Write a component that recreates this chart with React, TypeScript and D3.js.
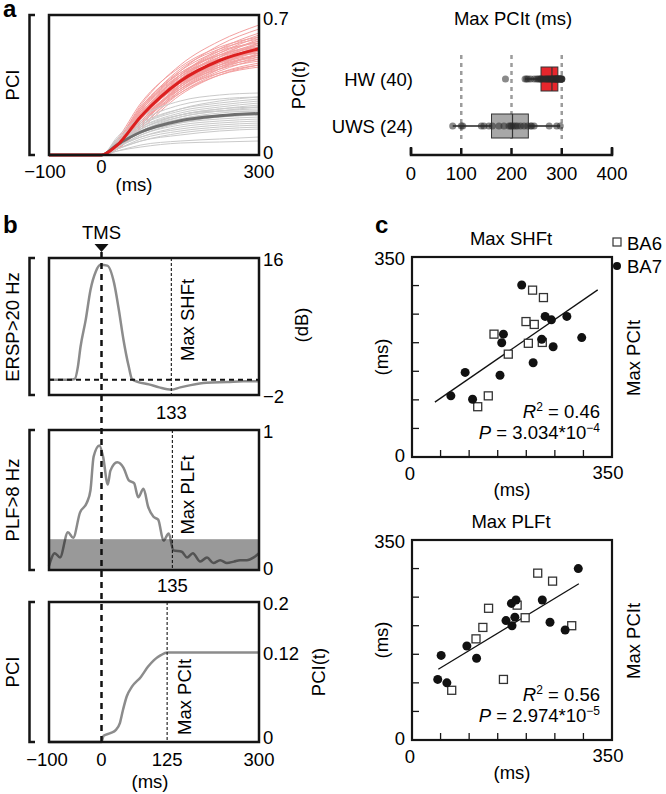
import React from "react";
import * as d3 from "d3";

const FONT = "'Liberation Sans', Arial, Helvetica, sans-serif";

// ---- a (left): PCI(t) of every subject, sampled at these latencies (ms)
const curveTimes = [-100, 0, 30, 75, 150, 225, 300];
// values at 30, 75, 150, 225, 300 ms (PCI stays at 0 before the pulse)
const hwCurves = [
  [0.05, 0.2, 0.4, 0.52, 0.6], [0.04, 0.18, 0.38, 0.5, 0.57], [0.06, 0.22, 0.42, 0.55, 0.63],
  [0.03, 0.15, 0.33, 0.44, 0.5], [0.05, 0.19, 0.36, 0.46, 0.52], [0.07, 0.24, 0.41, 0.5, 0.55],
  [0.04, 0.16, 0.34, 0.45, 0.53], [0.05, 0.21, 0.39, 0.49, 0.54], [0.06, 0.23, 0.43, 0.53, 0.58],
  [0.03, 0.14, 0.31, 0.41, 0.46], [0.04, 0.17, 0.35, 0.47, 0.56], [0.05, 0.2, 0.37, 0.45, 0.49],
  [0.08, 0.26, 0.44, 0.54, 0.59], [0.04, 0.18, 0.36, 0.48, 0.55], [0.05, 0.19, 0.35, 0.43, 0.47],
  [0.03, 0.13, 0.3, 0.4, 0.45], [0.06, 0.21, 0.38, 0.47, 0.51], [0.05, 0.22, 0.4, 0.51, 0.57],
  [0.04, 0.16, 0.32, 0.42, 0.48], [0.07, 0.25, 0.45, 0.57, 0.65], [0.05, 0.18, 0.34, 0.44, 0.5],
  [0.06, 0.2, 0.36, 0.44, 0.48], [0.04, 0.19, 0.39, 0.51, 0.59], [0.05, 0.17, 0.33, 0.43, 0.49],
  [0.03, 0.15, 0.35, 0.47, 0.54], [0.06, 0.23, 0.41, 0.5, 0.54], [0.05, 0.21, 0.37, 0.46, 0.5],
  [0.04, 0.16, 0.31, 0.4, 0.44], [0.07, 0.24, 0.42, 0.52, 0.56], [0.05, 0.2, 0.38, 0.49, 0.56],
  [0.06, 0.22, 0.39, 0.48, 0.52], [0.04, 0.17, 0.34, 0.46, 0.53], [0.05, 0.19, 0.36, 0.45, 0.5],
  [0.03, 0.14, 0.32, 0.43, 0.51], [0.06, 0.21, 0.4, 0.53, 0.61], [0.05, 0.18, 0.33, 0.41, 0.45],
  [0.04, 0.2, 0.37, 0.47, 0.52], [0.07, 0.23, 0.4, 0.48, 0.51], [0.05, 0.19, 0.35, 0.45, 0.52],
  [0.04, 0.16, 0.35, 0.49, 0.58],
];
const uwsCurves = [
  [0.06, 0.13, 0.2, 0.23, 0.24], [0.08, 0.17, 0.25, 0.28, 0.29], [0.04, 0.09, 0.13, 0.15, 0.16],
  [0.05, 0.11, 0.16, 0.18, 0.19], [0.09, 0.19, 0.27, 0.3, 0.31], [0.03, 0.07, 0.1, 0.12, 0.13],
  [0.06, 0.14, 0.21, 0.24, 0.26], [0.05, 0.12, 0.18, 0.2, 0.21], [0.07, 0.15, 0.22, 0.25, 0.27],
  [0.02, 0.05, 0.07, 0.08, 0.09], [0.04, 0.1, 0.15, 0.17, 0.18], [0.06, 0.13, 0.19, 0.22, 0.23],
  [0.05, 0.11, 0.17, 0.19, 0.2], [0.08, 0.16, 0.23, 0.26, 0.28], [0.03, 0.08, 0.12, 0.14, 0.15],
  [0.04, 0.09, 0.14, 0.16, 0.17], [0.07, 0.14, 0.2, 0.22, 0.22], [0.05, 0.12, 0.19, 0.22, 0.24],
  [0.02, 0.04, 0.06, 0.065, 0.07], [0.06, 0.15, 0.23, 0.27, 0.29], [0.04, 0.1, 0.16, 0.19, 0.2],
  [0.05, 0.13, 0.2, 0.23, 0.25], [0.03, 0.07, 0.11, 0.13, 0.14], [0.06, 0.12, 0.18, 0.21, 0.22],
];
const timeTicks = [-100, 0, 300];
const pciTicksA = [0, 0.7];

// ---- a (right): Max PCIt (ms) per subject
const groups = ["HW (40)", "UWS (24)"];
const hwMaxPci = [
  188, 227, 230, 233, 238, 245, 250, 253, 256, 258, 259, 262, 265, 268, 270, 272, 274, 276, 278, 280,
  281, 283, 284, 286, 287, 288, 289, 290, 291, 292, 293, 294, 295, 296, 297, 298, 299, 300, 300, 300,
];
const uwsMaxPci = [
  83, 100, 103, 140, 145, 155, 162, 175, 185, 195, 198, 200,
  204, 208, 212, 218, 225, 232, 238, 240, 245, 275, 290, 297,
];
const boxTicks = [0, 100, 200, 300, 400];
const boxGuides = [100, 200, 300];

// ---- b: single subject time courses
const erspT = [-100, -60, -51, -45, -40, -30, -21, -11, -2, 11, 24, 33, 42, 52, 58, 70, 90, 110, 133, 150, 170, 200, 240, 270, 300];
const erspV = [0, 0, 0.1, 1.7, 4.3, 7.9, 11.8, 14.2, 15.1, 15, 12.7, 9.2, 5.2, 1.7, 0.1, -0.3, -0.6, -1.0, -1.3, -1.0, -0.7, -0.4, -0.3, -0.2, -0.2];
const plfT = [-100, -89, -79, -64, -54, -41, -28, -21, -15, -4, 3, 12, 17, 30, 42, 52, 62, 70, 80, 89, 99, 108, 118, 128, 137, 153, 163, 174, 188, 201, 213, 226, 239, 252, 264, 277, 290, 300];
const plfV = [0.03, 0.12, 0.09, 0.27, 0.23, 0.41, 0.48, 0.57, 0.81, 0.89, 0.81, 0.61, 0.71, 0.77, 0.73, 0.64, 0.62, 0.52, 0.58, 0.45, 0.38, 0.36, 0.21, 0.26, 0.14, 0.13, 0.09, 0.12, 0.06, 0.09, 0.05, 0.07, 0.05, 0.06, 0.07, 0.07, 0.09, 0.12];
const plfThreshold = 0.22;
const pciT = [-100, 0, 4, 18, 27, 35, 41, 48, 58, 75, 88, 100, 113, 125, 300];
const pciV = [0, 0, 0.009, 0.013, 0.017, 0.027, 0.046, 0.065, 0.079, 0.093, 0.107, 0.117, 0.124, 0.128, 0.128];
const maxShf = 133;
const maxPlf = 135;
const maxPci = 125;
const bTimeTicks = [-100, 0, 125, 300];
const erspTicks = [16, -2];
const erspTickLabels = ["16", "\u22122"];
const plfTicks = [1, 0];
const pciTicksB = [0.2, 0.128, 0];
const pciTickLabelsB = ["0.2", "0.12", "0"];

// ---- c: Max SHFt / Max PLFt (x) vs Max PCIt (y), ms
const topBA6X = [211, 230, 199.5, 214, 143.5, 203.6, 228, 168.5, 133.5, 115];
const topBA6Y = [292, 279, 237, 232, 215, 199, 200.5, 180, 107, 88];
const topBA7X = [68, 93, 106, 154, 157, 160, 192, 212, 227, 233, 244, 247, 271, 297];
const topBA7Y = [107, 148, 101, 143, 200, 215, 301, 165, 206, 246, 240, 193, 246, 209];
const botBA6X = [220, 246, 184, 134, 198, 124, 279.5, 112, 160, 69.5];
const botBA6Y = [292, 278, 236, 230.5, 214, 197, 200, 177, 106, 87];
const botBA7X = [291, 228, 174, 182, 164.5, 175, 180, 241.5, 268, 96, 51, 113, 45, 61];
const botBA7Y = [300, 245, 239, 245, 209, 200, 215, 206, 192.5, 164.5, 148, 143, 106, 100];
const topFitRange = [40, 325];
const botFitRange = [46, 292];
const scatterTicks = [50, 100, 150, 200, 250, 300];
const topStats = ["0.46", "3.034", "\u22124"];
const botStats = ["0.56", "2.974", "\u22125"];

const FS = 18.5;
const fmtMinus = (v: number) => (v < 0 ? "\u2212" + Math.abs(v) : String(v));

function boxStats(vals: number[]) {
  const s = vals.slice().sort(d3.ascending);
  const q1 = d3.quantileSorted(s, 0.25)!;
  const med = d3.quantileSorted(s, 0.5)!;
  const q3 = d3.quantileSorted(s, 0.75)!;
  const iqr = q3 - q1;
  const lo = d3.min(s.filter((v) => v >= q1 - 1.5 * iqr))!;
  const hi = d3.max(s.filter((v) => v <= q3 + 1.5 * iqr))!;
  return { q1, med, q3, lo, hi };
}

function fit(xs: number[], ys: number[]) {
  const mx = d3.mean(xs)!;
  const my = d3.mean(ys)!;
  const sxy = d3.sum(xs, (x, i) => (x - mx) * (ys[i] - my));
  const sxx = d3.sum(xs, (x) => (x - mx) * (x - mx));
  const slope = sxy / sxx;
  return { slope, icpt: my - slope * mx };
}

const VText = ({ x, y, children }: any) => (
  <text transform={`translate(${x},${y}) rotate(-90)`} textAnchor="middle" dominantBaseline="central">
    {children}
  </text>
);

const bracket = (y0: number, y1: number) => `M35,${y0}H29.5V${y1}H35`;

function PanelA() {
  const x = d3.scaleLinear().domain([-100, 300]).range([49, 259]);
  const y = d3.scaleLinear().domain([0, 0.7]).range([155, 15]);
  const line = d3.line<number>().x((d, i) => x(curveTimes[i])).y((d) => y(d)).curve(d3.curveMonotoneX);
  const full = (c: number[]) => [0, 0, ...c];
  const mean = (cs: number[][]) => curveTimes.map((t, i) => d3.mean(cs, (c) => full(c)[i])!);

  const xb = d3.scaleLinear().domain([0, 400]).range([411, 612]);
  const yb = d3.scalePoint<string>().domain(groups).range([79, 126]);
  const sets = [hwMaxPci, uwsMaxPci];
  const fills = ["#e6262c", "#a8a8a8"];

  return (
    <g>
      <text x={3} y={17} fontSize={24} fontWeight="bold">a</text>
      {hwCurves.map((c, i) => (
        <path key={"h" + i} d={line(full(c))!} fill="none" stroke="#f3a0a0" strokeWidth={1} />
      ))}
      {uwsCurves.map((c, i) => (
        <path key={"u" + i} d={line(full(c))!} fill="none" stroke="#cacaca" strokeWidth={1} />
      ))}
      <path d={line(mean(uwsCurves))!} fill="none" stroke="#6f6f6f" strokeWidth={3} />
      <path d={line(mean(hwCurves))!} fill="none" stroke="#dc1f1f" strokeWidth={3} />
      <rect x={x(-100)} y={y(0.7)} width={x(300) - x(-100)} height={y(0) - y(0.7)} fill="none" stroke="#151515" strokeWidth={2.5} />
      <path d={bracket(y(0.7), y(0))} fill="none" stroke="#151515" strokeWidth={2.5} />
      <VText x={12} y={85}>PCI</VText>
      <VText x={298} y={85}>PCI(t)</VText>
      {pciTicksA.map((v) => (
        <text key={v} x={263} y={y(v) + (v === 0 ? -3 : 3)} dominantBaseline="central">{v}</text>
      ))}
      {timeTicks.map((t) => (
        <text key={t} x={x(t) - (t === -100 ? 4 : 0)} y={t === 0 ? 166 : 171} textAnchor="middle" dominantBaseline="central">{fmtMinus(t)}</text>
      ))}
      <text x={134} y={184} textAnchor="middle" dominantBaseline="central">(ms)</text>

      {/* box plot */}
      <text x={513} y={18} textAnchor="middle" dominantBaseline="central">Max PCIt (ms)</text>
      {boxGuides.map((v) => (
        <line key={v} x1={xb(v)} x2={xb(v)} y1={55} y2={140} stroke="#9c9c9c" strokeWidth={2.5} strokeDasharray="4 4" />
      ))}
      {groups.map((g, gi) => {
        const s = boxStats(sets[gi]);
        const cy = yb(g)!;
        return (
          <g key={g}>
            <text x={413} y={cy} textAnchor="end" dominantBaseline="central">{g}</text>
            <line x1={xb(s.lo)} x2={xb(s.hi)} y1={cy} y2={cy} stroke="#222" strokeWidth={1.5} />
            <rect x={xb(s.q1)} y={cy - 12} width={xb(s.q3) - xb(s.q1)} height={24} fill={fills[gi]} stroke="#333" strokeWidth={1} />
            <line x1={xb(s.med)} x2={xb(s.med)} y1={cy - 12} y2={cy + 12} stroke="#333" strokeWidth={1.2} />
            {sets[gi].map((v, i) => (
              <circle key={i} cx={xb(v)} cy={cy} r={3.5} fill="#2a2a2a" fillOpacity={0.55} />
            ))}
          </g>
        );
      })}
      <path d={`M${xb(0)},147V155H${xb(400)}V147`} fill="none" stroke="#151515" strokeWidth={2.5} />
      {boxTicks.map((v) => (
        <g key={v}>
          <line x1={xb(v)} x2={xb(v)} y1={148} y2={155} stroke="#151515" strokeWidth={2.5} />
          <text x={xb(v)} y={173} textAnchor="middle" dominantBaseline="central">{v}</text>
        </g>
      ))}
    </g>
  );
}

function PanelB() {
  const x = d3.scaleLinear().domain([-100, 300]).range([49, 259]);
  const yE = d3.scaleLinear().domain([-2, 16]).range([395, 258]);
  const yP = d3.scaleLinear().domain([0, 1]).range([570, 430]);
  const yC = d3.scaleLinear().domain([0, 0.2]).range([742, 602]);
  const mk = (ts: number[], ys: any) =>
    d3.line<number>().x((d, i) => x(ts[i])).y((d) => ys(d)).curve(d3.curveMonotoneX);
  const w = x(300) - x(-100);
  const frame = (y0: number, y1: number) => (
    <>
      <rect x={x(-100)} y={y0} width={w} height={y1 - y0} fill="none" stroke="#151515" strokeWidth={2.5} />
      <path d={bracket(y0, y1)} fill="none" stroke="#151515" strokeWidth={2.5} />
    </>
  );
  const marker = (t: number, y0: number, y1: number) => (
    <line x1={x(t)} x2={x(t)} y1={y0} y2={y1} stroke="#151515" strokeWidth={1.1} strokeDasharray="3 2" />
  );

  return (
    <g>
      <text x={3} y={233} fontSize={24} fontWeight="bold">b</text>
      <text x={x(0)} y={232} textAnchor="middle" dominantBaseline="central">TMS</text>
      <path d={`M${x(0) - 7},244H${x(0) + 7}L${x(0)},252Z`} fill="#111" />

      {/* ERSP */}
      <path d={mk(erspT, yE)(erspV)!} fill="none" stroke="#8c8c8c" strokeWidth={2.5} />
      <line x1={x(-100)} x2={x(300)} y1={yE(0)} y2={yE(0)} stroke="#111" strokeWidth={2} strokeDasharray="5 4" />
      {marker(maxShf, yE(16), yE(-2))}
      {frame(yE(16), yE(-2))}
      <VText x={12} y={327}>ERSP&gt;20 Hz</VText>
      <VText x={187} y={320}>Max SHFt</VText>
      <VText x={301} y={325}>(dB)</VText>
      {erspTicks.map((v, i) => (
        <text key={v} x={263} y={yE(v) + 1} dominantBaseline="central">{erspTickLabels[i]}</text>
      ))}
      <text x={x(maxShf)} y={412} textAnchor="middle" dominantBaseline="central">{maxShf}</text>

      {/* PLF */}
      <path d={mk(plfT, yP)(plfV)!} fill="none" stroke="#8a8a8a" strokeWidth={2.5} />
      <rect x={x(-100)} y={yP(plfThreshold)} width={w} height={yP(0) - yP(plfThreshold)} fill="#000" fillOpacity={0.4} />
      {marker(maxPlf, yP(1), yP(0))}
      {frame(yP(1), yP(0))}
      <VText x={12} y={500}>PLF&gt;8 Hz</VText>
      <VText x={187} y={495}>Max PLFt</VText>
      {plfTicks.map((v) => (
        <text key={v} x={263} y={yP(v) + (v === 0 ? -2 : 1)} dominantBaseline="central">{v}</text>
      ))}
      <text x={x(maxPlf)} y={585} textAnchor="middle" dominantBaseline="central">{maxPlf}</text>

      {/* PCI */}
      <path d={mk(pciT, yC)(pciV)!} fill="none" stroke="#8c8c8c" strokeWidth={2.5} />
      {marker(maxPci, yC(0.2), yC(0))}
      {frame(yC(0.2), yC(0))}
      <VText x={12} y={672}>PCI</VText>
      <VText x={184} y={697}>Max PCIt</VText>
      <VText x={318} y={672}>PCI(t)</VText>
      {pciTicksB.map((v, i) => (
        <text key={v} x={263} y={yC(v) + (v === 0 ? -5 : 1)} dominantBaseline="central">{pciTickLabelsB[i]}</text>
      ))}
      {bTimeTicks.map((t) => (
        <text key={t} x={x(t) - (t === -100 ? 2 : 0)} y={759} textAnchor="middle" dominantBaseline="central">{fmtMinus(t)}</text>
      ))}
      <text x={150} y={781} textAnchor="middle" dominantBaseline="central">(ms)</text>

      {/* TMS onset */}
      <line x1={x(0)} x2={x(0)} y1={252} y2={yC(0)} stroke="#111" strokeWidth={2.5} strokeDasharray="6 5" />
    </g>
  );
}

function Scatter({ y0, title, ba6x, ba6y, ba7x, ba7y, range, stats, yLabel }: any) {
  const x = d3.scaleLinear().domain([0, 350]).range([412, 612]);
  const y = d3.scaleLinear().domain([0, 350]).range([y0 + 200, y0]);
  const f = fit([...ba6x, ...ba7x], [...ba6y, ...ba7y]);
  const yb = y(0);
  return (
    <g>
      <text x={511} y={y0 - 19} textAnchor="middle" dominantBaseline="central">{title}</text>
      <rect x={x(0)} y={y(350)} width={x(350) - x(0)} height={yb - y(350)} fill="none" stroke="#151515" strokeWidth={2.2} />
      {scatterTicks.map((v) => (
        <g key={v}>
          <line x1={x(0)} x2={x(0) + 7} y1={y(v)} y2={y(v)} stroke="#151515" strokeWidth={1.3} />
          <line x1={x(v)} x2={x(v)} y1={yb} y2={yb - 7} stroke="#151515" strokeWidth={1.3} />
        </g>
      ))}
      <line x1={x(range[0])} x2={x(range[1])} y1={y(f.icpt + f.slope * range[0])} y2={y(f.icpt + f.slope * range[1])} stroke="#111" strokeWidth={1.3} />
      {ba6x.map((v: number, i: number) => (
        <rect key={"s" + i} x={x(v) - 4} y={y(ba6y[i]) - 4} width={8} height={8} fill="#fff" stroke="#333" strokeWidth={1.3} />
      ))}
      {ba7x.map((v: number, i: number) => (
        <circle key={"c" + i} cx={x(v)} cy={y(ba7y[i])} r={4.5} fill="#111" />
      ))}
      <text x={405} y={y(350) + 1} textAnchor="end" dominantBaseline="central">350</text>
      <text x={405} y={yb - 2} textAnchor="end" dominantBaseline="central">0</text>
      <text x={x(0) - 2} y={yb + 16} textAnchor="middle" dominantBaseline="central">0</text>
      <text x={x(350) - 4} y={yb + 15} textAnchor="middle" dominantBaseline="central">350</text>
      <text x={512} y={yb + 32} textAnchor="middle" dominantBaseline="central">(ms)</text>
      <VText x={381} y={yLabel}>(ms)</VText>
      <VText x={633} y={yLabel + 1}>Max PCIt</VText>
      <text x={600} y={yb - 39} textAnchor="end">
        <tspan fontStyle="italic">R</tspan>
        <tspan dy={-7} fontSize={12}>2</tspan>
        <tspan dy={7}> = {stats[0]}</tspan>
      </text>
      <text x={600} y={yb - 18} textAnchor="end">
        <tspan fontStyle="italic">P</tspan>
        <tspan> = {stats[1]}*10</tspan>
        <tspan dy={-7} fontSize={12}>{stats[2]}</tspan>
      </text>
    </g>
  );
}

export default function App() {
  return (
    <div style={{ position: "absolute", left: 0, top: 0 }}>
      <svg width={666} height={794} fontFamily={FONT} fontSize={FS} style={{ display: "block", background: "#fff" }}>
        <PanelA />
        <PanelB />
        <text x={375} y={233} fontSize={24} fontWeight="bold">c</text>
        <rect x={613} y={238} width={8} height={8} fill="#fff" stroke="#333" strokeWidth={1.2} />
        <text x={627} y={243} dominantBaseline="central">BA6</text>
        <circle cx={617} cy={266} r={4} fill="#111" />
        <text x={627} y={266} dominantBaseline="central">BA7</text>
        <Scatter y0={257} title="Max SHFt" ba6x={topBA6X} ba6y={topBA6Y} ba7x={topBA7X} ba7y={topBA7Y} range={topFitRange} stats={topStats} yLabel={357} />
        <Scatter y0={540} title="Max PLFt" ba6x={botBA6X} ba6y={botBA6Y} ba7x={botBA7X} ba7y={botBA7Y} range={botFitRange} stats={botStats} yLabel={640} />
      </svg>
    </div>
  );
}
